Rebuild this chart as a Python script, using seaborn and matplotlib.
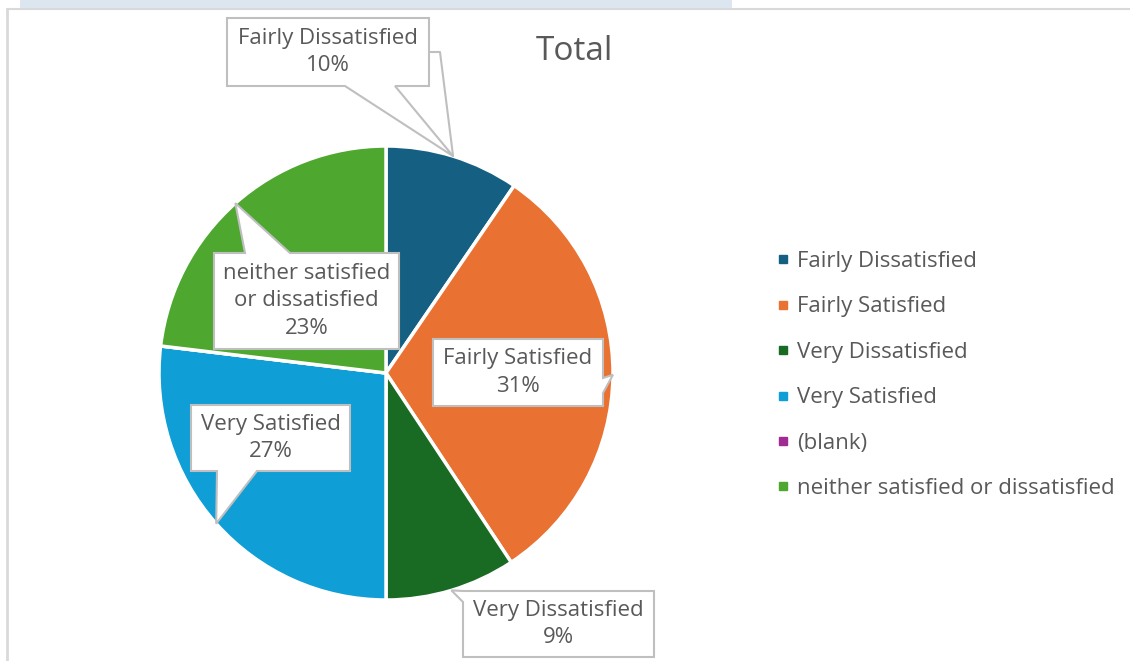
import textwrap
import numpy as np
import matplotlib
matplotlib.use('Agg')
import matplotlib.pyplot as plt
from matplotlib.patches import Polygon, Rectangle
from matplotlib.lines import Line2D
import seaborn as sns

# ---- data -------------------------------------------------------------
CATEGORIES = ['Fairly Dissatisfied', 'Fairly Satisfied', 'Very Dissatisfied',
              'Very Satisfied', '(blank)', 'neither satisfied or dissatisfied']
SHARES = [9.55, 31.15, 9.3, 26.9, 0.0, 23.1]
COLORS = ['#156082', '#E97132', '#196B24', '#0F9ED5', '#A02B93', '#4EA72E']
TITLE = 'Total'

# callout layout (pixel boxes: x0, y0, x1, y1, side of pointer, pointer base)
CALLOUTS = {
    'Fairly Dissatisfied': ((227, 18, 429, 86), 'bottom', (345, 395)),
    'Fairly Satisfied': ((433, 339, 603, 406), 'right', (378, 393)),
    'Very Dissatisfied': ((463, 591, 654, 657), 'left', (591, 602)),
    'Very Satisfied': ((191, 405, 350, 471), 'bottom', (217, 257)),
    'neither satisfied or dissatisfied': ((214, 253, 399, 349), 'top', (245, 290)),
}

W, H = 1130, 661
TEXT = '#595959'
CENTER = (386, 373)
RADIUS = 227

sns.set_theme(style='white')
plt.rcParams['font.family'] = ['Open Sans', 'DejaVu Sans']


def py(y):
    # image pixel row -> data y
    return H - y


def callout_poly(box, side, base, tip):
    x0, y0, x1, y1 = box
    a, b = base
    if side == 'bottom':
        pts = [(x0, y0), (x1, y0), (x1, y1), (b, y1), tip, (a, y1), (x0, y1)]
    elif side == 'top':
        pts = [(x0, y0), (a, y0), tip, (b, y0), (x1, y0), (x1, y1), (x0, y1)]
    elif side == 'right':
        pts = [(x0, y0), (x1, y0), (x1, a), tip, (x1, b), (x1, y1), (x0, y1)]
    else:
        pts = [(x0, y0), (x1, y0), (x1, y1), (x0, y1), (x0, b), tip, (x0, a)]
    return [(x, py(y)) for x, y in pts]


fig = plt.figure(figsize=(W / 100, H / 100), dpi=100)
ax = fig.add_axes([0, 0, 1, 1])

# chart frame and the strip of the pivot table above it
fig.patches.append(Rectangle((20 / W, 1 - 8 / H), 712 / W, 8 / H,
                             transform=fig.transFigure, facecolor='#dce6f1',
                             edgecolor='none', zorder=0))
ax.plot([7, W], [py(9), py(9)], color='#d9d9d9', lw=1.5, zorder=1)
ax.plot([7, 7], [py(9), 0], color='#d9d9d9', lw=2, zorder=1)

wedges, _ = ax.pie(SHARES, colors=COLORS, startangle=90, counterclock=False,
                   center=(CENTER[0], py(CENTER[1])), radius=RADIUS,
                   wedgeprops=dict(edgecolor='white', linewidth=2.5))

total = sum(SHARES)
for wedge, name, val in zip(wedges, CATEGORIES, SHARES):
    if name not in CALLOUTS:
        continue
    box, side, base = CALLOUTS[name]
    mid = np.deg2rad((wedge.theta1 + wedge.theta2) / 2)
    tip = (CENTER[0] + RADIUS * np.cos(mid), CENTER[1] - RADIUS * np.sin(mid))
    ax.add_patch(Polygon(callout_poly(box, side, base, tip), closed=True,
                         facecolor='white', edgecolor='#bfbfbf', lw=1.5, zorder=5))
    if name == 'Fairly Dissatisfied':
        ax.plot([box[2], box[2] + 11, tip[0]], [py(52), py(52), py(tip[1])],
                color='#bfbfbf', lw=1.5, zorder=5)
    label = textwrap.fill(name, 17) if len(name) > 20 else name
    ax.text((box[0] + box[2]) / 2, py((box[1] + box[3]) / 2),
            f'{label}\n{val / total * 100:.0f}%', ha='center', va='center',
            fontsize=16, color=TEXT, linespacing=1.4, zorder=6)

ax.text(574, py(52), TITLE, ha='center', va='center', fontsize=24, color=TEXT)

handles = [Line2D([], [], marker='s', linestyle='none', markersize=6,
                  markerfacecolor=c, markeredgecolor=c) for c in COLORS]
leg = ax.legend(handles, CATEGORIES, loc='upper left',
                bbox_to_anchor=(777 / W, 1 - 251 / H), bbox_transform=fig.transFigure,
                frameon=False, fontsize=16, labelspacing=1.1, handlelength=0.5,
                handletextpad=0.4, borderpad=0, borderaxespad=0, labelcolor=TEXT)

ax.set_xlim(0, W)
ax.set_ylim(0, H)
ax.set_aspect('equal')
ax.axis('off')

fig.savefig('out.png', dpi=100)
